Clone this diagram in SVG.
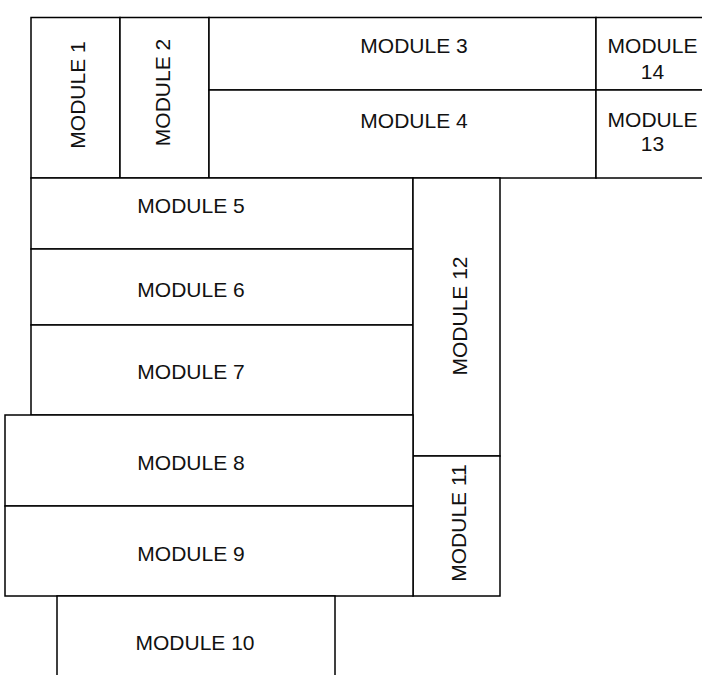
<svg xmlns="http://www.w3.org/2000/svg" width="702" height="675" viewBox="0 0 702 675">
<style>
rect{fill:#fff;stroke:#000;stroke-width:1.5}
text{font-family:"Liberation Sans",Arial,sans-serif;font-size:21px;fill:#111;text-anchor:middle}
</style>
<rect x="0" y="0" width="702" height="675" style="stroke:none"/>
<g id="module1"><rect x="31" y="17.5" width="89" height="160.5"/><text transform="translate(85,95) rotate(-90)">MODULE 1</text></g>
<g id="module2"><rect x="120" y="17.5" width="89" height="160.5"/><text transform="translate(170,92.5) rotate(-90)">MODULE 2</text></g>
<g id="module3"><rect x="209" y="17.5" width="387" height="72.5"/><text x="414" y="53">MODULE 3</text></g>
<g id="module4"><rect x="209" y="90" width="387" height="88"/><text x="414" y="127.5">MODULE 4</text></g>
<g id="module14"><rect x="596" y="17.5" width="110" height="72.5"/><text x="652.5" y="52.7">MODULE</text><text x="652.5" y="78.7">14</text></g>
<g id="module13"><rect x="596" y="90" width="110" height="88"/><text x="652.5" y="126.7">MODULE</text><text x="652.5" y="150.7">13</text></g>
<g id="module5"><rect x="31" y="178" width="382" height="71"/><text x="191" y="212.7">MODULE 5</text></g>
<g id="module6"><rect x="31" y="249" width="382" height="76"/><text x="191" y="297.3">MODULE 6</text></g>
<g id="module7"><rect x="31" y="325" width="382" height="90"/><text x="191" y="379.3">MODULE 7</text></g>
<g id="module12"><rect x="413" y="178" width="87" height="278"/><text transform="translate(467,316) rotate(-90)">MODULE 12</text></g>
<g id="module11"><rect x="413" y="456" width="87" height="140"/><text transform="translate(466,523) rotate(-90)">MODULE 11</text></g>
<g id="module8"><rect x="5" y="415" width="408" height="91"/><text x="191" y="470">MODULE 8</text></g>
<g id="module9"><rect x="5" y="506" width="408" height="90"/><text x="191" y="560.7">MODULE 9</text></g>
<g id="module10"><rect x="57" y="596" width="278" height="82"/><text x="195" y="650">MODULE 10</text></g>
<g id="connectors"></g>
</svg>
